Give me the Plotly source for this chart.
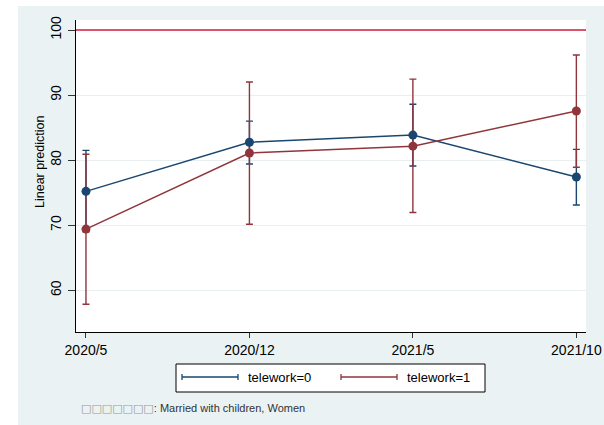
import plotly.graph_objects as go

# ---------------- data ----------------
periods = ["2020/5", "2020/12", "2021/5", "2021/10"]
x_idx = [0, 1, 2, 3]

tw0_est = [75.2, 82.75, 83.85, 77.4]
tw0_hi = [81.5, 86.0, 88.6, 81.65]
tw0_lo = [69.0, 79.4, 79.1, 73.1]

tw1_est = [69.4, 81.1, 82.15, 87.55]
tw1_hi = [80.9, 92.0, 92.45, 96.15]
tw1_lo = [57.85, 70.15, 71.95, 78.9]

ref_value = 100
y_ticks = [60, 70, 80, 90, 100]
series_names = ["telework=0", "telework=1"]
y_title = "Linear prediction"
note_text = "\u25a1\u25a1\u25a1\u25a1\u25a1\u25a1\u25a1"
note_rest = ": Married with children, Women"

# ---------------- style ----------------
NAVY = "#1A476F"
MAROON = "#90353B"
REFRED = "#D81B3C"
BG = "#EAF2F3"
GRID = "#E9EFF1"
FONT = "Liberation Sans, Arial, sans-serif"

W, H = 604, 425
PL, PT, PR, PB = 76, 20, 586, 332


def px(X):
    return (X - PL) / (PR - PL)


def py(Y):
    return (PB - Y) / (PB - PT)


fig = go.Figure()

# confidence intervals (caps)
for est, hi, lo, col in [(tw0_est, tw0_hi, tw0_lo, NAVY), (tw1_est, tw1_hi, tw1_lo, MAROON)]:
    fig.add_trace(go.Scatter(
        x=x_idx, y=est, mode="markers",
        marker=dict(size=1, opacity=0, color=col),
        error_y=dict(type="data", symmetric=False,
                     array=[h - e for h, e in zip(hi, est)],
                     arrayminus=[e - l for e, l in zip(est, lo)],
                     color=col, thickness=1.4, width=3.5),
        showlegend=False, hoverinfo="skip"))

# connected estimates
for est, col, name in [(tw0_est, NAVY, series_names[0]), (tw1_est, MAROON, series_names[1])]:
    fig.add_trace(go.Scatter(
        x=x_idx, y=est, mode="lines+markers", name=name,
        line=dict(color=col, width=1.5),
        marker=dict(color=col, size=9),
        showlegend=False))

shapes = []
# graph region background
shapes.append(dict(type="rect", xref="paper", yref="paper",
                   x0=px(18), x1=px(604), y0=py(425), y1=py(6),
                   fillcolor=BG, line=dict(width=0), layer="below"))
# plot region
shapes.append(dict(type="rect", xref="paper", yref="paper",
                   x0=0, x1=1, y0=0, y1=1,
                   fillcolor="white", line=dict(width=0), layer="below"))
# reference line
shapes.append(dict(type="line", xref="paper", yref="y",
                   x0=0, x1=1, y0=ref_value, y1=ref_value,
                   line=dict(color=REFRED, width=1.5)))

# legend box
shapes.append(dict(type="rect", xref="paper", yref="paper",
                   x0=px(176), x1=px(485), y0=py(392), y1=py(364),
                   fillcolor="white", line=dict(color="black", width=1)))
annotations = []
for (x0, x1, tx), col, name in [((182, 238, 246), NAVY, series_names[0]),
                                ((341, 397, 405), MAROON, series_names[1])]:
    ly = 377
    shapes.append(dict(type="line", xref="paper", yref="paper",
                       x0=px(x0), x1=px(x1), y0=py(ly), y1=py(ly),
                       line=dict(color=col, width=1.3)))
    for cx in (x0, x1):
        shapes.append(dict(type="line", xref="paper", yref="paper",
                           x0=px(cx), x1=px(cx), y0=py(ly - 3), y1=py(ly + 3),
                           line=dict(color=col, width=1.3)))
    annotations.append(dict(text=name, xref="paper", yref="paper",
                            x=px(tx), y=py(ly), xanchor="left", yanchor="middle",
                            showarrow=False, font=dict(size=13, color="black", family=FONT)))

# y-axis title
annotations.append(dict(text=y_title, xref="paper", yref="paper",
                        x=px(40), y=py(162), xanchor="center", yanchor="middle",
                        textangle=-90, showarrow=False,
                        font=dict(size=12.5, color="black", family=FONT)))

annotations.append(dict(
    text=("<span style='color:#999999;font-family:DejaVu Sans'>" + note_text + "</span>"
          + note_rest),
    xref="paper", yref="paper", x=px(79), y=py(408),
    xanchor="left", yanchor="middle", showarrow=False,
    font=dict(size=11, color="#333333", family=FONT)))

fig.update_layout(
    width=W, height=H,
    margin=dict(l=PL, r=W - PR, t=PT, b=H - PB, pad=0, autoexpand=False),
    paper_bgcolor="white", plot_bgcolor="white",
    font=dict(family=FONT, color="black"),
    shapes=shapes, annotations=annotations,
    showlegend=False,
    xaxis=dict(range=[-0.061, 3.059], tickmode="array", tickvals=x_idx, ticktext=periods,
               automargin=False,
               showgrid=False, zeroline=False, showline=True, linecolor="black", linewidth=1.2,
               ticks="outside", ticklen=5, tickcolor="#333333", tickwidth=1,
               tickfont=dict(size=14, family=FONT, color="black")),
    yaxis=dict(range=[53.58, 101.54], tickmode="array", tickvals=y_ticks,
               automargin=False,
               tickangle=-90, showgrid=True, gridcolor=GRID, gridwidth=1,
               zeroline=False, showline=True, linecolor="black", linewidth=1.2,
               ticks="outside", ticklen=7, tickcolor="#333333", tickwidth=1,
               tickfont=dict(size=14, family=FONT, color="black"),
               ticklabelstandoff=1),
)

fig.write_html("out.html",
               config={"displayModeBar": False},
               post_script="document.body.style.margin='0';document.body.style.padding='0';")
